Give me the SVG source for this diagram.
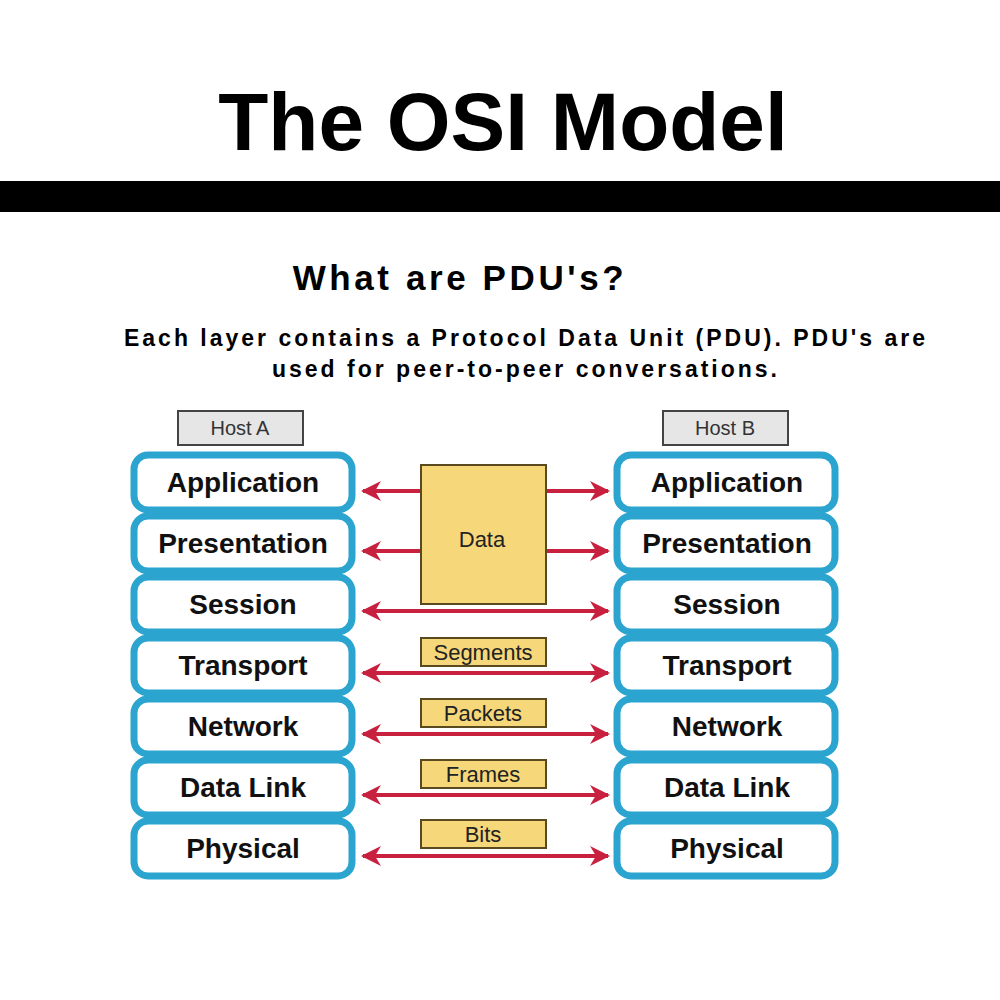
<svg xmlns="http://www.w3.org/2000/svg" width="1000" height="1000" viewBox="0 0 1000 1000">
<style>
.t{font-family:"Liberation Sans",Arial,sans-serif;fill:#000}
.layer rect{fill:#fff;stroke:#2ba5cf;stroke-width:7}
.layer text{font-family:"Liberation Sans",Arial,sans-serif;font-weight:bold;font-size:28px;fill:#111;text-anchor:middle}
.pdu rect{fill:#f6d77a;stroke:#5a4a20;stroke-width:2}
.pdu text{font-family:"Liberation Sans",Arial,sans-serif;font-size:22px;fill:#222;text-anchor:middle}
.host rect{fill:#e6e6e6;stroke:#444;stroke-width:2}
.host text{font-family:"Liberation Sans",Arial,sans-serif;font-size:20px;fill:#333;text-anchor:middle}
.arr line{stroke:#c8213f;stroke-width:4}
</style>
<defs>
<marker id="ah" viewBox="0 0 10 10" refX="9" refY="5" markerWidth="5" markerHeight="5" orient="auto-start-reverse"><path d="M0,0 L10,5 L0,10 L3,5 Z" fill="#c8213f"/></marker>
</defs>
<rect width="1000" height="1000" fill="#fff"/>
<text class="t" x="503" y="150" font-size="82" font-weight="bold" text-anchor="middle">The OSI Model</text>
<rect x="0" y="181" width="1000" height="31" fill="#000"/>
<text class="t" x="460" y="290" font-size="35" font-weight="bold" text-anchor="middle" letter-spacing="3.6">What are PDU's?</text>
<text class="t" x="526" y="346" font-size="23" font-weight="bold" text-anchor="middle" letter-spacing="3">Each layer contains a Protocol Data Unit (PDU). PDU's are</text>
<text class="t" x="526" y="377" font-size="23" font-weight="bold" text-anchor="middle" letter-spacing="3">used for peer-to-peer conversations.</text>

<g id="hostA" class="host"><rect x="178" y="411" width="125" height="34"/><text x="240" y="435">Host A</text></g>
<g id="hostB" class="host"><rect x="663" y="411" width="125" height="34"/><text x="725" y="435">Host B</text></g>

<g id="A1" class="layer"><rect x="134" y="455" width="218" height="55" rx="14"/><text x="243" y="492">Application</text></g>
<g id="A2" class="layer"><rect x="134" y="516" width="218" height="55" rx="14"/><text x="243" y="553">Presentation</text></g>
<g id="A3" class="layer"><rect x="134" y="577" width="218" height="55" rx="14"/><text x="243" y="614">Session</text></g>
<g id="A4" class="layer"><rect x="134" y="638" width="218" height="55" rx="14"/><text x="243" y="675">Transport</text></g>
<g id="A5" class="layer"><rect x="134" y="699" width="218" height="55" rx="14"/><text x="243" y="736">Network</text></g>
<g id="A6" class="layer"><rect x="134" y="760" width="218" height="55" rx="14"/><text x="243" y="797">Data Link</text></g>
<g id="A7" class="layer"><rect x="134" y="821" width="218" height="55" rx="14"/><text x="243" y="858">Physical</text></g>

<g id="B1" class="layer"><rect x="617" y="455" width="218" height="55" rx="14"/><text x="727" y="492">Application</text></g>
<g id="B2" class="layer"><rect x="617" y="516" width="218" height="55" rx="14"/><text x="727" y="553">Presentation</text></g>
<g id="B3" class="layer"><rect x="617" y="577" width="218" height="55" rx="14"/><text x="727" y="614">Session</text></g>
<g id="B4" class="layer"><rect x="617" y="638" width="218" height="55" rx="14"/><text x="727" y="675">Transport</text></g>
<g id="B5" class="layer"><rect x="617" y="699" width="218" height="55" rx="14"/><text x="727" y="736">Network</text></g>
<g id="B6" class="layer"><rect x="617" y="760" width="218" height="55" rx="14"/><text x="727" y="797">Data Link</text></g>
<g id="B7" class="layer"><rect x="617" y="821" width="218" height="55" rx="14"/><text x="727" y="858">Physical</text></g>

<g id="connectors" class="arr">
<line x1="421" y1="491" x2="363" y2="491" marker-end="url(#ah)"/>
<line x1="546" y1="491" x2="608" y2="491" marker-end="url(#ah)"/>
<line x1="421" y1="551" x2="363" y2="551" marker-end="url(#ah)"/>
<line x1="546" y1="551" x2="608" y2="551" marker-end="url(#ah)"/>
<line x1="363" y1="611" x2="608" y2="611" marker-start="url(#ah)" marker-end="url(#ah)"/>
<line x1="363" y1="673" x2="608" y2="673" marker-start="url(#ah)" marker-end="url(#ah)"/>
<line x1="363" y1="734" x2="608" y2="734" marker-start="url(#ah)" marker-end="url(#ah)"/>
<line x1="363" y1="795" x2="608" y2="795" marker-start="url(#ah)" marker-end="url(#ah)"/>
<line x1="363" y1="856" x2="608" y2="856" marker-start="url(#ah)" marker-end="url(#ah)"/>
</g>

<g id="data" class="pdu"><rect x="421" y="465" width="125" height="139"/><text x="482" y="547">Data</text></g>
<g id="segments" class="pdu"><rect x="421" y="638" width="125" height="28"/><text x="483" y="660">Segments</text></g>
<g id="packets" class="pdu"><rect x="421" y="699" width="125" height="28"/><text x="483" y="721">Packets</text></g>
<g id="frames" class="pdu"><rect x="421" y="760" width="125" height="28"/><text x="483" y="782">Frames</text></g>
<g id="bits" class="pdu"><rect x="421" y="820" width="125" height="28"/><text x="483" y="842">Bits</text></g>
</svg>
